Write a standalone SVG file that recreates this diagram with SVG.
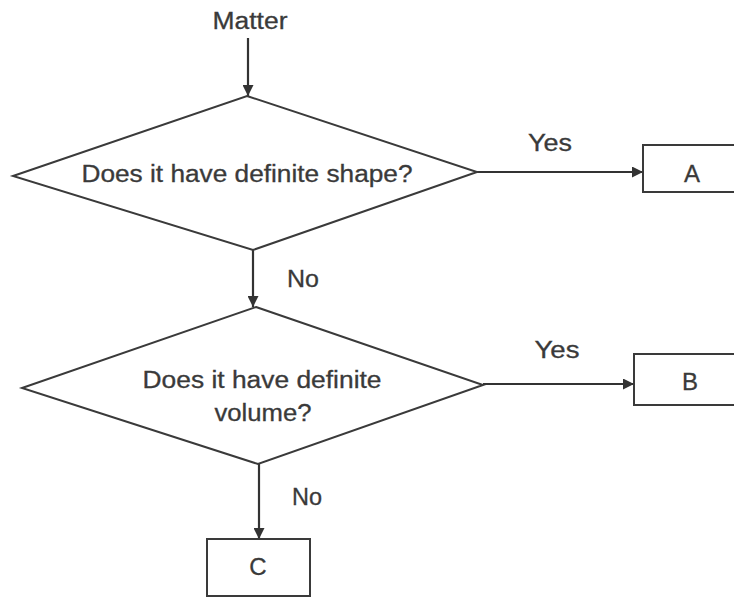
<svg xmlns="http://www.w3.org/2000/svg" width="734" height="598" viewBox="0 0 734 598">
<style>
.shape{fill:#fff;stroke:#3a3a3a;stroke-width:2}
.conn{fill:none;stroke:#333;stroke-width:2.2}
text{font-family:"Liberation Sans",Arial,sans-serif;font-size:23px;fill:#3a3a3a;stroke:#3a3a3a;stroke-width:0.3;text-anchor:middle}
.big{font-size:24px}
</style>
<defs>
<marker id="arr" viewBox="0 0 10 10" refX="10" refY="5" markerWidth="5" markerHeight="5" orient="auto" markerUnits="strokeWidth">
<path d="M0,0 L10,5 L0,10 z" fill="#333"/>
</marker>
</defs>
<rect width="734" height="598" fill="#fff"/>
<g id="connectors">
<line class="conn" x1="248" y1="38" x2="248" y2="96" marker-end="url(#arr)"/>
<line class="conn" x1="477" y1="172" x2="643" y2="172" marker-end="url(#arr)"/>
<line class="conn" x1="253" y1="250" x2="253" y2="307" marker-end="url(#arr)"/>
<line class="conn" x1="483" y1="384" x2="634" y2="384" marker-end="url(#arr)"/>
<line class="conn" x1="259" y1="464" x2="259" y2="539" marker-end="url(#arr)"/>
<text x="550" y="151" textLength="44" lengthAdjust="spacingAndGlyphs">Yes</text>
<text x="303" y="287" textLength="32" lengthAdjust="spacingAndGlyphs">No</text>
<text x="557" y="358" textLength="45" lengthAdjust="spacingAndGlyphs">Yes</text>
<text x="307" y="505" textLength="30" lengthAdjust="spacingAndGlyphs">No</text>
</g>
<g id="start">
<text x="250" y="29" textLength="75" lengthAdjust="spacingAndGlyphs">Matter</text>
</g>
<g id="decision1">
<polygon class="shape" points="247,96 477,172 253,250 13,176"/>
<text x="247" y="182" textLength="331" lengthAdjust="spacingAndGlyphs">Does it have definite shape?</text>
</g>
<g id="decision2">
<polygon class="shape" points="256,307 483,385 258,464 22,388"/>
<text x="262" y="388" textLength="239" lengthAdjust="spacingAndGlyphs">Does it have definite</text>
<text x="263" y="421" textLength="97" lengthAdjust="spacingAndGlyphs">volume?</text>
</g>
<g id="boxA">
<rect class="shape" x="643" y="145" width="100" height="47"/>
<text class="big" x="692" y="182">A</text>
</g>
<g id="boxB">
<rect class="shape" x="634" y="354" width="110" height="51"/>
<text class="big" x="690" y="390">B</text>
</g>
<g id="boxC">
<rect class="shape" x="207" y="539" width="103" height="57"/>
<text class="big" x="258" y="575">C</text>
</g>
</svg>
